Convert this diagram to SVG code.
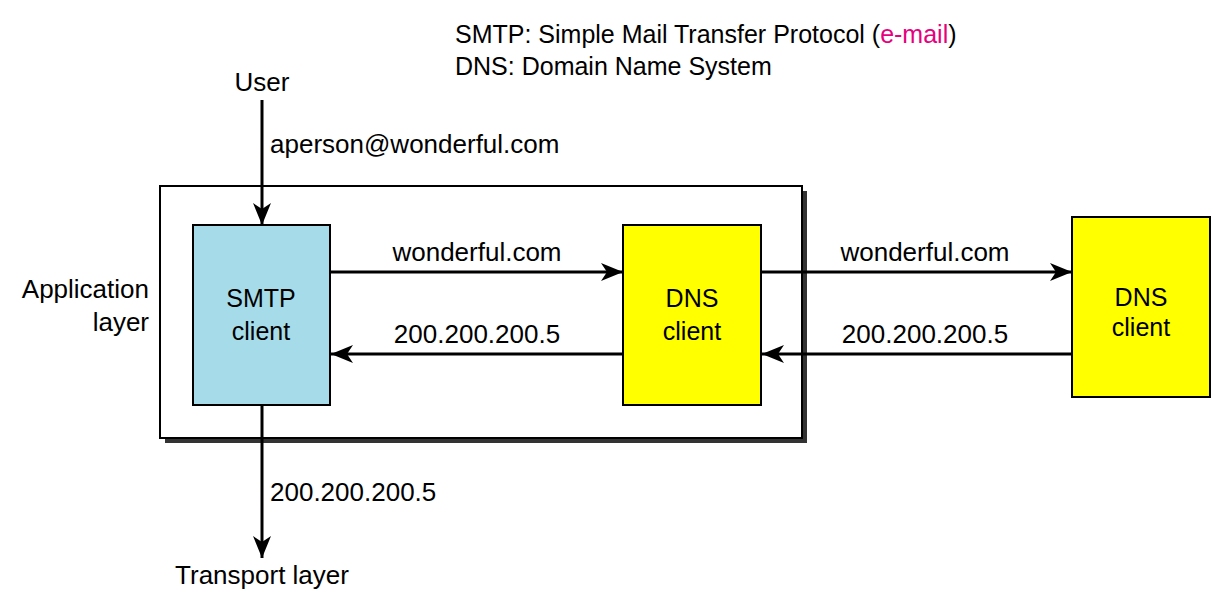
<svg xmlns="http://www.w3.org/2000/svg" width="1231" height="616" viewBox="0 0 1231 616">
<defs>
<style>
text{font-family:"Liberation Sans",Arial,sans-serif;font-size:26px;fill:#000}
.c{text-anchor:middle}
.n{font-size:25px}
.lg{font-size:25px}
.ln{stroke:#000;stroke-width:3;fill:none}
.box{stroke:#000;stroke-width:2}
</style>
<marker id="ah" viewBox="0 0 22 18" refX="22" refY="9" markerWidth="22" markerHeight="18" markerUnits="userSpaceOnUse" orient="auto">
<path d="M0,0 L22,9 L0,18 L6,9 Z" fill="#000"/>
</marker>
</defs>
<rect width="1231" height="616" fill="#fff"/>
<g id="legend">
<text class="lg" x="455" y="43">SMTP: Simple Mail Transfer Protocol (<tspan fill="#e6007e">e-mail</tspan>)</text>
<text class="lg" x="455" y="75">DNS: Domain Name System</text>
</g>
<g id="app-layer">
<rect x="165" y="191" width="642" height="252" fill="#333"/>
<rect x="160" y="186" width="642" height="252" fill="#fff" class="box"/>
<text x="149" y="298" text-anchor="end">Application</text>
<text x="149" y="331" text-anchor="end">layer</text>
</g>
<g id="connectors">
<line class="ln" x1="262" y1="100" x2="262" y2="225" marker-end="url(#ah)"/>
<line class="ln" x1="262" y1="405" x2="262" y2="558" marker-end="url(#ah)"/>
<line class="ln" x1="331" y1="272" x2="623" y2="272" marker-end="url(#ah)"/>
<line class="ln" x1="623" y1="354" x2="331" y2="354" marker-end="url(#ah)"/>
<line class="ln" x1="761" y1="272" x2="1072" y2="272" marker-end="url(#ah)"/>
<line class="ln" x1="1072" y1="354" x2="762" y2="354" marker-end="url(#ah)"/>
</g>
<g id="smtp-client">
<rect x="193" y="225" width="137" height="180" fill="#a6dcea" class="box"/>
<text class="c n" x="261" y="307">SMTP</text>
<text class="c n" x="261" y="340">client</text>
</g>
<g id="dns-client-local">
<rect x="623" y="225" width="138" height="180" fill="#ffff00" class="box"/>
<text class="c n" x="692" y="307">DNS</text>
<text class="c n" x="692" y="340">client</text>
</g>
<g id="dns-client-remote">
<rect x="1072" y="217" width="138" height="180" fill="#ffff00" class="box"/>
<text class="c n" x="1141" y="306">DNS</text>
<text class="c n" x="1141" y="336">client</text>
</g>
<g id="labels">
<text class="c" x="262" y="91">User</text>
<text x="270" y="153">aperson@wonderful.com</text>
<text class="c" x="477" y="261">wonderful.com</text>
<text class="c" x="477" y="343">200.200.200.5</text>
<text class="c" x="925" y="261">wonderful.com</text>
<text class="c" x="925" y="343">200.200.200.5</text>
<text x="270" y="501">200.200.200.5</text>
<text class="c" x="262" y="584">Transport layer</text>
</g>
</svg>
